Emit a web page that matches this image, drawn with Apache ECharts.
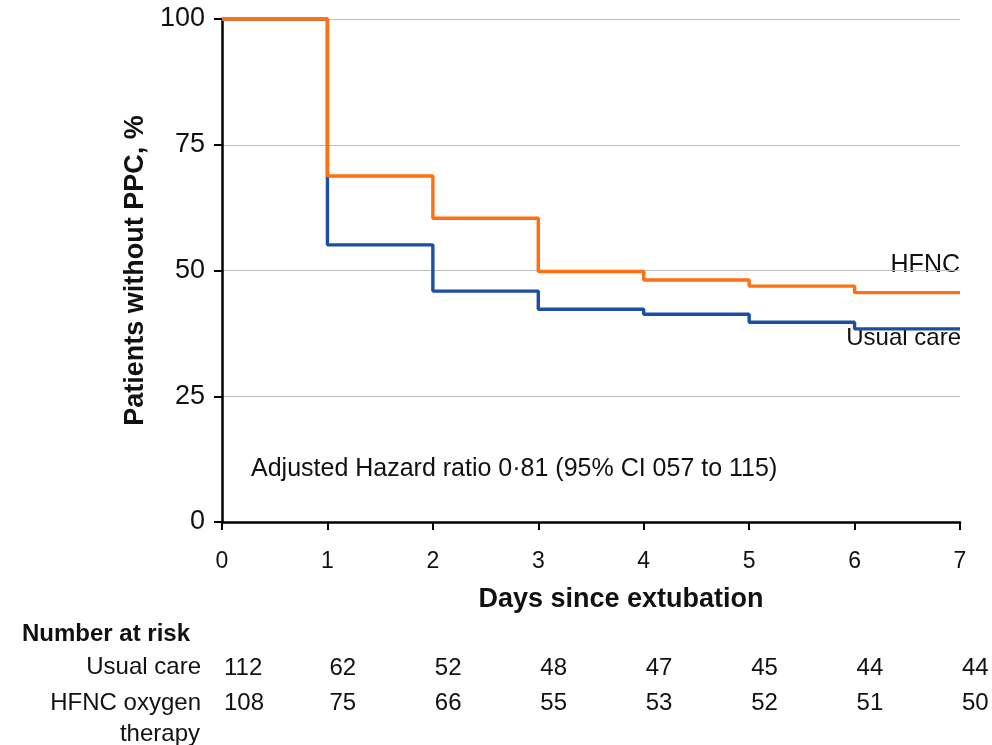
<!DOCTYPE html>
<html><head><meta charset="utf-8">
<script src="https://cdn.jsdelivr.net/npm/echarts@6/dist/echarts.min.js"></script>
<style>html,body{margin:0;padding:0;background:#fff}#c{width:992px;height:745px}</style>
</head><body><div id="c"></div>
<script>
const days = [0,1,2,3,4,5,6,7];
const hfncValues = [100,68.8,60.4,49.8,48.1,46.9,45.6,45.6];
const usualValues = [100,55.1,45.9,42.3,41.3,39.7,38.4,38.4];
const yTicks = [0,25,50,75,100];
const riskRows = ['Usual care','HFNC oxygen'];
const riskUsual = [112,62,52,48,47,45,44,44];
const riskHfnc = [108,75,66,55,53,52,51,50];

const FONT = 'Liberation Sans, Arial, sans-serif';
const chart = echarts.init(document.getElementById('c'));
const tableData = [];
days.forEach((d,i)=>{ tableData.push([d,0,riskUsual[i]]); tableData.push([d,1,riskHfnc[i]]); });

chart.setOption({
  animation:false,
  textStyle:{fontFamily:FONT},
  grid:[
    {left:222,right:32,top:19,bottom:223},
    {left:222,right:32,top:651,height:70}
  ],
  xAxis:[
    {type:'value',gridIndex:0,min:0,max:7,interval:1,
     axisLine:{lineStyle:{color:'#000',width:2.5}},
     axisTick:{show:true,length:8,lineStyle:{color:'#000',width:2}},
     axisLabel:{fontSize:23,color:'#111',margin:28,fontFamily:FONT},
     splitLine:{show:false},
     name:'Days since extubation',nameLocation:'middle',nameGap:64,
     nameTextStyle:{fontSize:27,fontWeight:'bold',color:'#111',fontFamily:FONT,padding:[0,0,0,60]}},
    {type:'value',gridIndex:1,min:0,max:7,interval:1,show:false}
  ],
  yAxis:[
    {type:'value',gridIndex:0,min:0,max:100,interval:25,
     axisLine:{show:true,lineStyle:{color:'#000',width:2.5}},
     axisTick:{show:true,length:8,lineStyle:{color:'#000',width:2}},
     axisLabel:{fontSize:27,color:'#111',margin:17,fontFamily:FONT,
       formatter:v=>yTicks.includes(v)?String(v):''},
     splitLine:{show:true,lineStyle:{color:'#bdbdbd',width:1.2}},
     name:'Patients without PPC, %',nameLocation:'middle',nameGap:70,
     nameTextStyle:{fontSize:27,fontWeight:'bold',color:'#111',fontFamily:FONT}},
    {type:'category',gridIndex:1,data:riskRows,inverse:true,show:false}
  ],
  series:[
    {type:'line',name:'Usual care',xAxisIndex:0,yAxisIndex:0,step:'end',symbol:'none',
     lineStyle:{color:'#1c4fa3',width:3.4},z:2,
     data:days.map((d,i)=>[d,usualValues[i]])},
    {type:'line',name:'HFNC',xAxisIndex:0,yAxisIndex:0,step:'end',symbol:'none',
     lineStyle:{color:'#ff7012',width:3.4},z:3,
     data:days.map((d,i)=>[d,hfncValues[i]])},
    {type:'scatter',xAxisIndex:1,yAxisIndex:1,symbolSize:1,silent:true,
     itemStyle:{color:'rgba(0,0,0,0)',opacity:1},
     data:tableData,
     label:{show:true,position:'inside',align:'left',offset:[2,0],fontSize:24,color:'#111',opacity:1,
       textBorderWidth:0,fontFamily:FONT,formatter:p=>String(p.value[2])}}
  ],
  graphic:[
    {type:'text',left:22,top:622,style:{text:'Number at risk',font:'bold 24px '+FONT,fill:'#111'}},
    {type:'text',right:791,top:655,style:{text:'Usual care',font:'24px '+FONT,fill:'#111',textAlign:'right'}},
    {type:'text',right:791,top:691,style:{text:'HFNC oxygen',font:'24px '+FONT,fill:'#111',textAlign:'right'}},
    {type:'text',right:792,top:722,style:{text:'therapy',font:'24px '+FONT,fill:'#111',textAlign:'right'}},
    {type:'text',right:32,top:253,style:{text:'HFNC',font:'25px '+FONT,fill:'#111'}},
    {type:'text',right:31,top:326,style:{text:'Usual care',font:'24px '+FONT,fill:'#111'}},
    {type:'text',left:251,top:457,style:{text:'Adjusted Hazard ratio 0·81 (95% CI 057 to 115)',font:'25px '+FONT,fill:'#111'}}
  ]
});
</script></body></html>
